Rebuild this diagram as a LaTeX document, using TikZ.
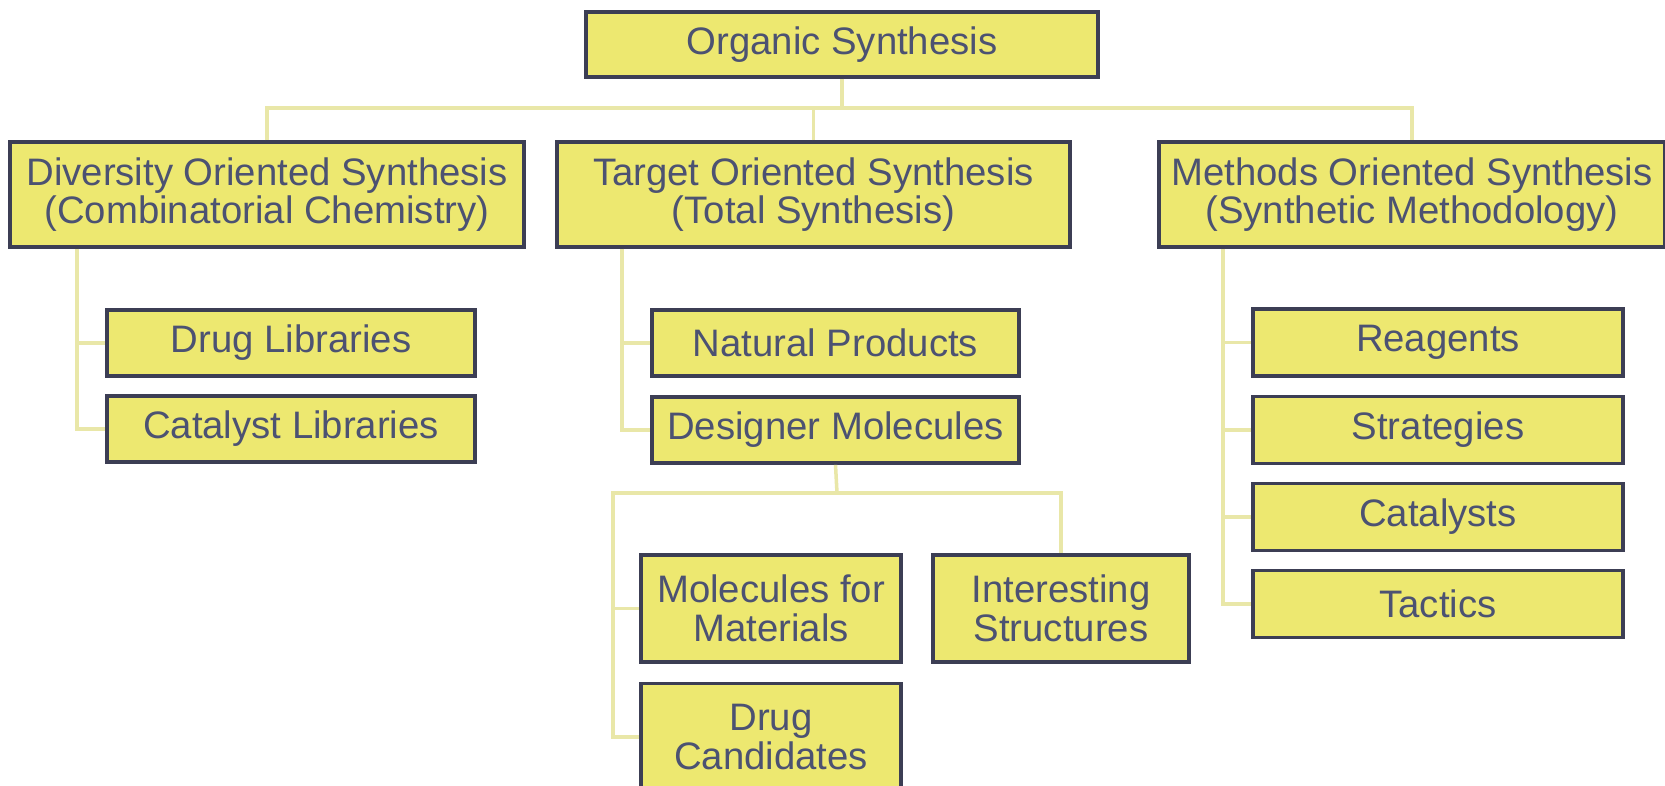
\documentclass[tikz,border=0pt]{standalone}
\usepackage{fontspec}
\setmainfont{Liberation Sans}
\usepackage{tikz}

\definecolor{boxfill}{RGB}{237,232,112}
\definecolor{boxline}{RGB}{60,62,84}
\definecolor{boxtext}{RGB}{76,82,114}
\definecolor{linkline}{RGB}{233,231,168}

\tikzset{
  box/.style={draw=boxline, fill=boxfill, line width=2.2pt, text=boxtext,
    inner sep=0pt, align=center, font=\fontsize{21.8}{22}\selectfont},
  link/.style={draw=linkline, line width=2pt}
}

\begin{document}
\begin{tikzpicture}[x=0.02cm,y=-0.02cm]
%%%%%%%%%%%%%%%%%%Page Frame%%%%%%%%%%%%%%%
\clip (0,0) rectangle (1665,786);
\fill[white] (0,0) rectangle (1665,786);

%%%%%%%%%%%%%%Junction Points%%%%%%%%%%%%%%
\coordinate (bus) at (842,108);
\coordinate (dtrunk) at (77,0);
\coordinate (ttrunk) at (622,0);
\coordinate (mtrunk) at (1223,0);
\coordinate (dmbus) at (837,493);
\coordinate (dmtrunk) at (613,0);

%%%%%%%%%%%%%%%%%%%Top Two Levels%%%%%%%%%%%%%%%%%%
\node[box, minimum width=512*0.02cm, minimum height=65*0.02cm] (org) at (842,44.5) {Organic Synthesis};
\node[box, minimum width=514*0.02cm, minimum height=105*0.02cm] (dos) at (267,194.5) {Diversity Oriented Synthesis\\(Combinatorial Chemistry)};
\node[box, minimum width=513*0.02cm, minimum height=105*0.02cm] (tos) at (813.5,194.5) {Target Oriented Synthesis\\(Total Synthesis)};
\node[box, minimum width=506*0.02cm, minimum height=105*0.02cm] (mos) at (1412,194.5) {Methods Oriented Synthesis\\(Synthetic Methodology)};

%%%%%%%%%%%%%%Top Level Links%%%%%%%%%%%%%%
\draw[link] (org.south) -- (bus);
\draw[link] (dos.north) |- (bus) -| (mos.north);
\draw[link] (tos.north) -- (tos.north |- bus);

%%%%%%%%%%%%%%Diversity Branch%%%%%%%%%%%%%%
\node[box, minimum width=368*0.02cm, minimum height=66*0.02cm] (druglib) at (291,343) {Drug Libraries};
\node[box, minimum width=368*0.02cm, minimum height=66*0.02cm] (catlib) at (291,429) {Catalyst Libraries};
\draw[link] (dos.south -| dtrunk) |- (catlib.west);
\draw[link] (druglib.west -| dtrunk) -- (druglib.west);

%%%%%%%%%%%%%%Target Branch%%%%%%%%%%%%%%
\node[box, minimum width=367*0.02cm, minimum height=66*0.02cm] (natprod) at (835.5,343) {Natural Products};
\node[box, minimum width=367*0.02cm, minimum height=66*0.02cm] (desmol) at (835.5,430) {Designer Molecules};
\draw[link] (tos.south -| ttrunk) |- (desmol.west);
\draw[link] (natprod.west -| ttrunk) -- (natprod.west);

%%%%%%%%%%%%%%Designer Molecules Branch%%%%%%%%%%%%%%
\node[box, minimum width=260*0.02cm, minimum height=107*0.02cm] (molmat) at (771,608.5) {Molecules for\\Materials};
\node[box, minimum width=256*0.02cm, minimum height=107*0.02cm] (intstr) at (1061,608.5) {Interesting\\Structures};
\node[box, minimum width=260*0.02cm, minimum height=107*0.02cm] (drugcand) at (771,737) {Drug\\Candidates};
\draw[link] (desmol.south) -- (dmbus);
\draw[link] (dmbus) -| (intstr.north);
\draw[link] (dmbus) -| (dmtrunk |- drugcand.west) -- (drugcand.west);
\draw[link] (molmat.west -| dmtrunk) -- (molmat.west);

%%%%%%%%%%%%%%Methods Branch%%%%%%%%%%%%%%
\node[box, minimum width=370*0.02cm, minimum height=67*0.02cm] (reag) at (1438,342.5) {Reagents};
\node[box, minimum width=370*0.02cm, minimum height=67*0.02cm] (strat) at (1438,430) {Strategies};
\node[box, minimum width=370*0.02cm, minimum height=67*0.02cm] (catal) at (1438,517) {Catalysts};
\node[box, minimum width=370*0.02cm, minimum height=67*0.02cm] (tact) at (1438,604) {Tactics};
\draw[link] (mos.south -| mtrunk) |- (tact.west);
\foreach \n in {reag,strat,catal}
  \draw[link] (\n.west -| mtrunk) -- (\n.west);

\end{tikzpicture}
\end{document}
